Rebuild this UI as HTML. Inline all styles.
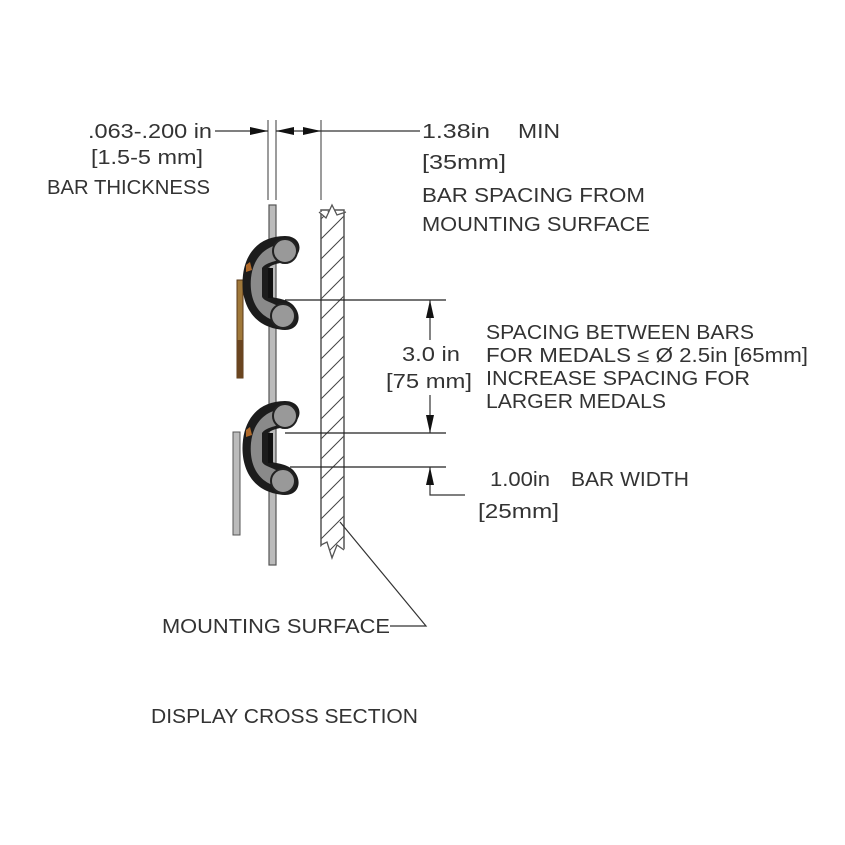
<!DOCTYPE html>
<html><head><style>
html,body{margin:0;padding:0;background:#fff;}
svg{display:block}
text{font-family:"Liberation Sans",sans-serif;font-size:20px;fill:#333;}
</style></head><body>
<svg width="845" height="845" viewBox="0 0 845 845" xmlns="http://www.w3.org/2000/svg">
<defs>
<pattern id="h" width="20" height="20" patternUnits="userSpaceOnUse">
<path d="M-5,25 L25,-5 M-5,5 L5,-5 M15,25 L25,15" stroke="#444" stroke-width="1"/>
</pattern>
<g id="clip">
<path d="M285,236 C262,236 246,250 243,275 C240,300 250,328 285,330 C300,330 303,314 292,304 C285,298 272,298 268,296 L268,268 C275,262 285,264 294,258 C304,250 300,236 285,236 Z" fill="#1c1c1c"/>
<path d="M282,244 C265,246 253,258 251,278 C249,300 258,318 280,322 L276,305 C270,302 262,300 262,296 L262,268 C266,262 276,262 282,258 Z" fill="#8a8a8a"/>
<circle cx="285" cy="251" r="12" fill="#999" stroke="#222" stroke-width="2"/>
<circle cx="283" cy="316" r="12" fill="#999" stroke="#222" stroke-width="2"/>
<rect x="268" y="268" width="5" height="30" fill="#111"/>
<path d="M246,265 L250,262 L252,270 L246,272 Z" fill="#b06a2a"/>
</g>
</defs>
<line x1="268" y1="120" x2="268" y2="200" stroke="#666" stroke-width="1.3"/>
<line x1="276" y1="120" x2="276" y2="200" stroke="#666" stroke-width="1.3"/>
<line x1="321" y1="120" x2="321" y2="200" stroke="#666" stroke-width="1.3"/>
<line x1="215" y1="131" x2="268" y2="131" stroke="#333" stroke-width="1.2"/>
<line x1="276" y1="131" x2="420" y2="131" stroke="#333" stroke-width="1.2"/>
<polygon points="268,131 250,127 250,135" fill="#111"/>
<polygon points="276,131 294,127 294,135" fill="#111"/>
<polygon points="321,131 303,127 303,135" fill="#111"/>
<rect x="269" y="205" width="7" height="360" fill="#bbb" stroke="#555" stroke-width="1.2"/>
<rect x="321" y="210" width="23" height="346" fill="url(#h)" stroke="#555" stroke-width="1.5"/>
<path d="M319,212 L326,218 L332,205 L337,215 L346,212" fill="#fff" stroke="#555" stroke-width="1.3"/>
<path d="M319,548 L327,542 L332,558 L337,545 L346,550 L346,560 L319,560Z" fill="#fff" stroke="none"/>
<path d="M321,545 L327,542 L332,558 L337,545 L344,550" fill="none" stroke="#555" stroke-width="1.3"/>
<rect x="237" y="280" width="6" height="98" fill="#a0783a" stroke="#5a3a1a" stroke-width="1"/>
<rect x="237" y="340" width="6" height="38" fill="#6a4520"/>
<rect x="233" y="432" width="7" height="103" fill="#bbb" stroke="#555" stroke-width="1"/>
<use href="#clip"/>
<use href="#clip" transform="translate(0,165)"/>
<line x1="285" y1="300" x2="446" y2="300" stroke="#222" stroke-width="1.2"/>
<line x1="285" y1="433" x2="446" y2="433" stroke="#222" stroke-width="1.2"/>
<line x1="290" y1="467" x2="446" y2="467" stroke="#222" stroke-width="1.2"/>
<line x1="430" y1="300" x2="430" y2="340" stroke="#333" stroke-width="1.2"/>
<line x1="430" y1="395" x2="430" y2="433" stroke="#333" stroke-width="1.2"/>
<polygon points="430,300 426,318 434,318" fill="#111"/>
<polygon points="430,433 426,415 434,415" fill="#111"/>
<polyline points="430,467 430,495 465,495" fill="none" stroke="#333" stroke-width="1.2"/>
<polygon points="430,467 426,485 434,485" fill="#111"/>
<polyline points="390,626 426,626 340,522" fill="none" stroke="#333" stroke-width="1.2"/>
<text x="88" y="138" textLength="124" lengthAdjust="spacingAndGlyphs">.063-.200 in</text>
<text x="91" y="164" textLength="112" lengthAdjust="spacingAndGlyphs">[1.5-5 mm]</text>
<text x="47" y="194" textLength="163" lengthAdjust="spacingAndGlyphs">BAR THICKNESS</text>
<text x="422" y="138" textLength="68" lengthAdjust="spacingAndGlyphs">1.38in</text>
<text x="518" y="138" textLength="42" lengthAdjust="spacingAndGlyphs">MIN</text>
<text x="422" y="169" textLength="84" lengthAdjust="spacingAndGlyphs">[35mm]</text>
<text x="422" y="202" textLength="223" lengthAdjust="spacingAndGlyphs">BAR SPACING FROM</text>
<text x="422" y="231" textLength="228" lengthAdjust="spacingAndGlyphs">MOUNTING SURFACE</text>
<text x="402" y="361" textLength="58" lengthAdjust="spacingAndGlyphs">3.0 in</text>
<text x="386" y="388" textLength="86" lengthAdjust="spacingAndGlyphs">[75 mm]</text>
<text x="486" y="339" textLength="268" lengthAdjust="spacingAndGlyphs">SPACING BETWEEN BARS</text>
<text x="486" y="362" textLength="322" lengthAdjust="spacingAndGlyphs">FOR MEDALS ≤ Ø 2.5in [65mm]</text>
<text x="486" y="385" textLength="264" lengthAdjust="spacingAndGlyphs">INCREASE SPACING FOR</text>
<text x="486" y="408" textLength="180" lengthAdjust="spacingAndGlyphs">LARGER MEDALS</text>
<text x="490" y="486" textLength="60" lengthAdjust="spacingAndGlyphs">1.00in</text>
<text x="571" y="486" textLength="118" lengthAdjust="spacingAndGlyphs">BAR WIDTH</text>
<text x="478" y="518" textLength="81" lengthAdjust="spacingAndGlyphs">[25mm]</text>
<text x="162" y="633" textLength="228" lengthAdjust="spacingAndGlyphs">MOUNTING SURFACE</text>
<text x="151" y="723" textLength="267" lengthAdjust="spacingAndGlyphs">DISPLAY CROSS SECTION</text>
</svg>
</body></html>
